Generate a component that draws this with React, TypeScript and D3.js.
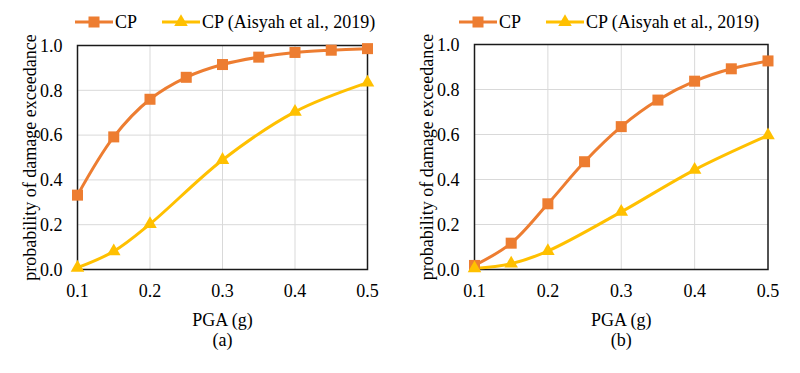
import React, { useEffect, useRef } from "react";
import * as d3 from "d3";

// PGA levels (g)
const pgaCP = [0.1, 0.15, 0.2, 0.25, 0.3, 0.35, 0.4, 0.45, 0.5];
const pgaAisyah = [0.1, 0.15, 0.2, 0.3, 0.4, 0.5];

// panel (a)
const cpA = [0.332, 0.592, 0.76, 0.858, 0.915, 0.948, 0.969, 0.979, 0.986];
const aisyahA = [0.008, 0.081, 0.203, 0.489, 0.704, 0.834];

// panel (b)
const cpB = [0.018, 0.117, 0.292, 0.479, 0.635, 0.753, 0.837, 0.892, 0.927];
const aisyahB = [0.005, 0.026, 0.082, 0.256, 0.443, 0.596];

const xTicks = [0.1, 0.2, 0.3, 0.4, 0.5];
const yTicks = [0, 0.2, 0.4, 0.6, 0.8, 1.0];

const legendCP = "CP";
const legendAisyah = "CP (Aisyah et al., 2019)";
const yTitle = "probability of damage exceedance";
const xTitle = "PGA (g)";

const ORANGE = "#ED7D31";
const YELLOW = "#FFC000";
const FONT = "'Liberation Serif', 'Times New Roman', serif";

type PanelProps = {
  left: number;
  right: number;
  top: number;
  bottom: number;
  cp: number[];
  aisyah: number[];
  label: string;
  legendX: number;
};

function drawPanel(g: d3.Selection<SVGGElement, unknown, null, undefined>, p: PanelProps) {
  const x = d3.scaleLinear().domain([0.1, 0.5]).range([p.left, p.right]);
  const y = d3.scaleLinear().domain([0, 1]).range([p.bottom, p.top]);

  // grid
  g.selectAll("line.vgrid")
    .data(xTicks.slice(1, -1))
    .enter()
    .append("line")
    .attr("x1", (d) => x(d))
    .attr("x2", (d) => x(d))
    .attr("y1", p.top)
    .attr("y2", p.bottom)
    .attr("stroke", "#D9D9D9")
    .attr("stroke-width", 1);
  g.selectAll("line.hgrid")
    .data(yTicks.slice(1, -1))
    .enter()
    .append("line")
    .attr("x1", p.left)
    .attr("x2", p.right)
    .attr("y1", (d) => y(d))
    .attr("y2", (d) => y(d))
    .attr("stroke", "#D9D9D9")
    .attr("stroke-width", 1);

  // frame
  g.append("rect")
    .attr("x", p.left)
    .attr("y", p.top)
    .attr("width", p.right - p.left)
    .attr("height", p.bottom - p.top)
    .attr("fill", "none")
    .attr("stroke", "#1a1a1a")
    .attr("stroke-width", 1.5);

  // tick labels
  g.selectAll("text.xt")
    .data(xTicks)
    .enter()
    .append("text")
    .attr("x", (d) => x(d))
    .attr("y", p.bottom + 27)
    .attr("text-anchor", "middle")
    .attr("font-size", 18)
    .attr("font-family", FONT)
    .text((d) => d3.format(".1f")(d));
  g.selectAll("text.yt")
    .data(yTicks)
    .enter()
    .append("text")
    .attr("x", p.left - 15)
    .attr("y", (d) => y(d))
    .attr("dy", "0.35em")
    .attr("text-anchor", "end")
    .attr("font-size", 18)
    .attr("font-family", FONT)
    .text((d) => d3.format(".1f")(d));

  // axis titles
  const cx = (p.left + p.right) / 2;
  g.append("text")
    .attr("x", cx)
    .attr("y", p.bottom + 56)
    .attr("text-anchor", "middle")
    .attr("font-size", 18)
    .attr("font-family", FONT)
    .text(xTitle);
  g.append("text")
    .attr("x", cx)
    .attr("y", p.bottom + 76)
    .attr("text-anchor", "middle")
    .attr("font-size", 18)
    .attr("font-family", FONT)
    .text(p.label);
  g.append("text")
    .attr("transform", `translate(${p.left - 42},${(p.top + p.bottom) / 2}) rotate(-90)`)
    .attr("text-anchor", "middle")
    .attr("font-size", 18)
    .attr("font-family", FONT)
    .text(yTitle);

  const line = d3
    .line<[number, number]>()
    .x((d) => x(d[0]))
    .y((d) => y(d[1]))
    .curve(d3.curveCatmullRom.alpha(0.5));

  const cpPts = pgaCP.map((v, i) => [v, p.cp[i]] as [number, number]);
  const aPts = pgaAisyah.map((v, i) => [v, p.aisyah[i]] as [number, number]);

  g.append("path")
    .attr("d", line(cpPts))
    .attr("fill", "none")
    .attr("stroke", ORANGE)
    .attr("stroke-width", 3);
  g.append("path")
    .attr("d", line(aPts))
    .attr("fill", "none")
    .attr("stroke", YELLOW)
    .attr("stroke-width", 3);

  const sq = 11;
  g.selectAll("rect.m")
    .data(cpPts)
    .enter()
    .append("rect")
    .attr("x", (d) => x(d[0]) - sq / 2)
    .attr("y", (d) => y(d[1]) - sq / 2)
    .attr("width", sq)
    .attr("height", sq)
    .attr("fill", ORANGE);

  const tri = d3.symbol().type(d3.symbolTriangle).size(80);
  g.selectAll("path.t")
    .data(aPts)
    .enter()
    .append("path")
    .attr("d", tri()!)
    .attr("transform", (d) => `translate(${x(d[0])},${y(d[1])})`)
    .attr("fill", YELLOW);

  // legend
  const ly = 22;
  const lx = p.legendX;
  g.append("line")
    .attr("x1", lx)
    .attr("x2", lx + 38)
    .attr("y1", ly)
    .attr("y2", ly)
    .attr("stroke", ORANGE)
    .attr("stroke-width", 3);
  g.append("rect")
    .attr("x", lx + 19 - sq / 2)
    .attr("y", ly - sq / 2)
    .attr("width", sq)
    .attr("height", sq)
    .attr("fill", ORANGE);
  g.append("text")
    .attr("x", lx + 40)
    .attr("y", ly + 6)
    .attr("font-size", 18)
    .attr("font-family", FONT)
    .text(legendCP);
  const lx2 = lx + 87;
  g.append("line")
    .attr("x1", lx2)
    .attr("x2", lx2 + 38)
    .attr("y1", ly)
    .attr("y2", ly)
    .attr("stroke", YELLOW)
    .attr("stroke-width", 3);
  g.append("path")
    .attr("d", tri()!)
    .attr("transform", `translate(${lx2 + 19},${ly})`)
    .attr("fill", YELLOW);
  g.append("text")
    .attr("x", lx2 + 40)
    .attr("y", ly + 6)
    .attr("font-size", 18)
    .attr("font-family", FONT)
    .text(legendAisyah);
}

export default function App() {
  const ref = useRef<SVGSVGElement>(null);

  useEffect(() => {
    const svg = d3.select(ref.current!);
    svg.selectAll("*").remove();
    svg.append("rect").attr("width", 800).attr("height", 373).attr("fill", "#fff");
    drawPanel(svg.append("g"), {
      left: 77.5,
      right: 367.5,
      top: 45.5,
      bottom: 269.5,
      cp: cpA,
      aisyah: aisyahA,
      label: "(a)",
      legendX: 75,
    });
    drawPanel(svg.append("g"), {
      left: 474.5,
      right: 768,
      top: 44.5,
      bottom: 269.5,
      cp: cpB,
      aisyah: aisyahB,
      label: "(b)",
      legendX: 459,
    });
  }, []);

  return (
    <svg
      ref={ref}
      width={800}
      height={373}
      style={{ position: "absolute", left: 0, top: 0, display: "block" }}
    />
  );
}
